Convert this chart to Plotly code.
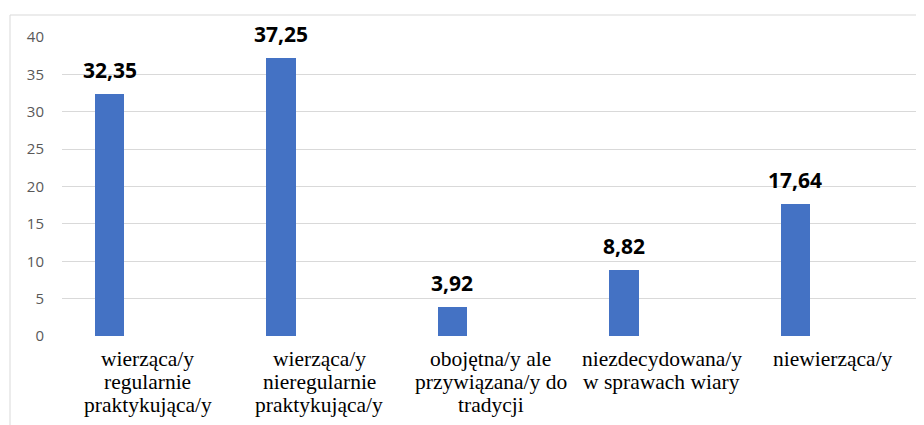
import plotly.graph_objects as go

categories = [
    "wierząca/y<br>regularnie<br>praktykująca/y",
    "wierząca/y<br>nieregularnie<br>praktykująca/y",
    "obojętna/y ale<br>przywiązana/y do<br>tradycji",
    "niezdecydowana/y<br>w sprawach wiary",
    "niewierząca/y",
]
values = [32.35, 37.25, 3.92, 8.82, 17.64]
y_ticks = [0, 5, 10, 15, 20, 25, 30, 35, 40]

BAR_OFFSET = -0.308
BAR_WIDTH = 0.172
LINE_STEP = 23
FIRST_LINE = -23
xs = list(range(len(categories)))

fig = go.Figure()
fig.add_trace(go.Bar(
    x=xs, y=values,
    offset=BAR_OFFSET, width=BAR_WIDTH,
    marker=dict(color="#4472C4", line=dict(width=0)),
    hoverinfo="skip",
))

for i, v in zip(xs, values):
    fig.add_annotation(
        x=i + BAR_OFFSET + BAR_WIDTH / 2, y=v,
        text="<b>" + f"{v:.2f}".replace(".", ",") + "</b>",
        showarrow=False, yanchor="bottom", yshift=8,
        font=dict(family="Open Sans", size=21, color="#000000"),
    )

# category labels (one annotation per line for tighter line spacing)
for i, label in zip(xs, categories):
    for k, line in enumerate(label.split("<br>")):
        fig.add_annotation(
            x=i, xref="x", y=0, yref="paper",
            text=line, showarrow=False,
            xanchor="center", yanchor="middle",
            yshift=FIRST_LINE - k * LINE_STEP,
            font=dict(family="Liberation Serif", size=21.5, color="#000000"),
        )

fig.add_shape(type="rect", xref="paper", yref="paper",
              x0=(10 - 62) / 857, x1=1.2, y0=-0.6, y1=(336 - 15) / 299,
              line=dict(color="#d9d9d9", width=1), fillcolor="rgba(0,0,0,0)",
              layer="below")

fig.update_layout(
    width=916, height=417,
    margin=dict(l=54, r=5, t=29, b=89),
    paper_bgcolor="white", plot_bgcolor="white",
    showlegend=False,
    bargap=0,
    xaxis=dict(
        tickmode="array", tickvals=xs,
        range=[-0.5, len(categories) - 0.5],
        showgrid=False, zeroline=False, showline=False,
        showticklabels=False, ticks="",
    ),
    yaxis=dict(
        range=[0, 40], tickvals=y_ticks,
        showgrid=True, gridcolor="#d9d9d9", gridwidth=1,
        zeroline=False, showline=False,
        ticks="outside", ticklen=14, tickcolor="rgba(0,0,0,0)",
        tickfont=dict(family="Open Sans", size=15, color="#595959"),
    ),
)

fig.write_html("out.html")
